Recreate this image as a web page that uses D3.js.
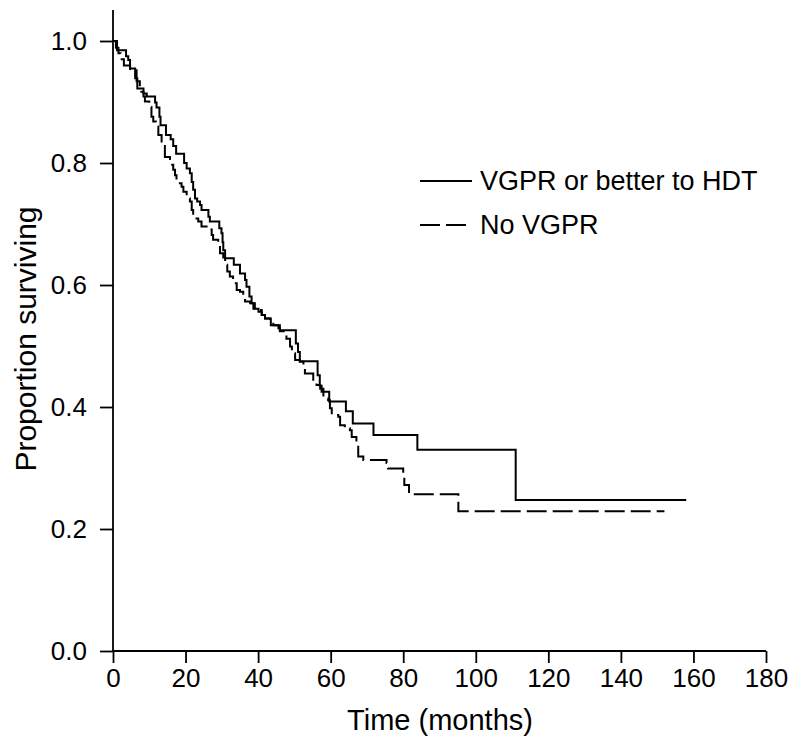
<!DOCTYPE html>
<html>
<head>
<meta charset="utf-8">
<script src="https://cdn.jsdelivr.net/npm/d3@7"></script>
<style>
  html, body { margin: 0; padding: 0; background: #fff; }
  svg { display: block; }
  text { font-family: "Liberation Sans", Arial, sans-serif; fill: #000; }
</style>
</head>
<body>
<svg id="chart" width="800" height="750"></svg>
<script>
// ---- data ----
const xTicks = [0, 20, 40, 60, 80, 100, 120, 140, 160, 180];
const yTicks = [0.0, 0.2, 0.4, 0.6, 0.8, 1.0];
const seriesNames = ["VGPR or better to HDT", "No VGPR"];

const vgprTimes = [0, 1.1, 3.6, 4.2, 4.7, 6.1, 6.7, 8.4, 9.3, 11.6, 12.0, 12.8, 13.1, 14.6, 15.9, 16.6, 17.4, 19.6, 20.3, 21.2, 21.7, 22.1, 22.6, 23.2, 24.0, 24.4, 26.3, 26.7, 29.3, 29.9, 30.2, 30.4, 30.9, 33.3, 35.0, 36.4, 36.8, 37.6, 38.2, 39.1, 40.1, 41.0, 41.9, 43.5, 46.0, 50.4, 51.0, 51.5, 56.4, 57.0, 57.5, 59.6, 64.2, 66.1, 71.8, 83.9, 111, 158];
const vgprSurv  = [1.0, 0.985, 0.975, 0.969, 0.955, 0.939, 0.922, 0.914, 0.909, 0.899, 0.891, 0.876, 0.862, 0.846, 0.839, 0.828, 0.815, 0.800, 0.791, 0.783, 0.769, 0.756, 0.742, 0.737, 0.731, 0.723, 0.712, 0.704, 0.693, 0.685, 0.670, 0.657, 0.644, 0.633, 0.619, 0.608, 0.597, 0.581, 0.570, 0.561, 0.556, 0.551, 0.545, 0.534, 0.526, 0.504, 0.490, 0.475, 0.452, 0.435, 0.425, 0.409, 0.393, 0.373, 0.354, 0.330, 0.2475, 0.2475];

const noVgprTimes = [0, 0.8, 1.5, 2.1, 3.0, 4.7, 6.5, 7.4, 8.4, 8.8, 10.0, 10.6, 11.1, 11.8, 12.5, 13.4, 14.3, 15.7, 16.6, 17.1, 17.5, 18.9, 19.4, 20.3, 21.2, 21.7, 22.1, 23.5, 24.4, 26.3, 27.2, 27.6, 29.0, 29.5, 30.4, 30.9, 31.5, 32.2, 33.1, 34.1, 35.0, 35.9, 36.4, 37.8, 38.7, 40.1, 41.0, 41.9, 43.3, 44.2, 45.6, 46.0, 47.4, 47.8, 48.8, 49.3, 50.2, 51.5, 52.5, 52.9, 55.2, 56.1, 57.1, 58.0, 59.3, 59.8, 60.3, 62.1, 62.6, 63.9, 65.3, 65.8, 67.1, 67.6, 69.0, 75.4, 75.8, 80.0, 80.3, 81.6, 95.2, 152];
const noVgprSurv  = [1.0, 0.989, 0.980, 0.970, 0.960, 0.952, 0.934, 0.917, 0.909, 0.901, 0.892, 0.876, 0.868, 0.860, 0.846, 0.830, 0.810, 0.797, 0.789, 0.780, 0.767, 0.761, 0.753, 0.742, 0.737, 0.723, 0.709, 0.704, 0.696, 0.691, 0.682, 0.674, 0.666, 0.652, 0.645, 0.633, 0.622, 0.614, 0.603, 0.592, 0.589, 0.581, 0.573, 0.570, 0.561, 0.559, 0.551, 0.545, 0.540, 0.534, 0.529, 0.524, 0.521, 0.512, 0.499, 0.488, 0.477, 0.474, 0.466, 0.455, 0.442, 0.436, 0.430, 0.414, 0.411, 0.398, 0.387, 0.384, 0.370, 0.365, 0.362, 0.351, 0.343, 0.319, 0.313, 0.308, 0.299, 0.290, 0.272, 0.257, 0.229, 0.229];

// ---- drawing ----
const svg = d3.select("#chart");
const x = d3.scaleLinear().domain([0, 180]).range([113, 766]);
const y = d3.scaleLinear().domain([0, 1]).range([651, 41]);

const stroke = "#000";
const axisW = 1.8;

// y axis
const yAxis = svg.append("g").attr("transform", "translate(113,0)")
  .call(d3.axisLeft(y).tickValues(yTicks).tickFormat(d3.format(".1f")).tickSize(13).tickSizeOuter(0).tickPadding(13));
yAxis.select(".domain").remove();
svg.append("line").attr("x1", 113).attr("x2", 113).attr("y1", 10).attr("y2", 651)
  .attr("stroke", stroke).attr("stroke-width", axisW);

// x axis
const xAxis = svg.append("g").attr("transform", "translate(0,651)")
  .call(d3.axisBottom(x).tickValues(xTicks).tickFormat(d3.format("d")).tickSize(12).tickSizeOuter(0).tickPadding(6));
xAxis.select(".domain").remove();
svg.append("line").attr("x1", 113).attr("x2", 766).attr("y1", 651).attr("y2", 651)
  .attr("stroke", stroke).attr("stroke-width", axisW);

svg.selectAll(".tick line").attr("stroke", stroke).attr("stroke-width", axisW);
svg.selectAll(".tick text").style("font-size", "26px").attr("fill", "#000");

// axis titles
svg.append("text").attr("x", 440).attr("y", 730).attr("text-anchor", "middle")
  .style("font-size", "29px").text("Time (months)");
svg.append("text").attr("transform", "translate(36,339) rotate(-90)").attr("text-anchor", "middle")
  .style("font-size", "30px").text("Proportion surviving");

// curves
const line = d3.line().x(d => x(d[0])).y(d => y(d[1])).curve(d3.curveStepAfter);
const vgpr = vgprTimes.map((t, i) => [t, vgprSurv[i]]);
const noVgpr = noVgprTimes.map((t, i) => [t, noVgprSurv[i]]);

svg.append("path").datum(vgpr).attr("d", line)
  .attr("fill", "none").attr("stroke", stroke).attr("stroke-width", 2);
svg.append("path").datum(noVgpr).attr("d", line)
  .attr("fill", "none").attr("stroke", stroke).attr("stroke-width", 2)
  .attr("stroke-dasharray", "20,6");

// legend
const legend = svg.append("g");
const legY = [181, 225];
const legDash = [null, "20,6"];
seriesNames.forEach((name, i) => {
  legend.append("line").attr("x1", 420).attr("x2", 472).attr("y1", legY[i]).attr("y2", legY[i])
    .attr("stroke", stroke).attr("stroke-width", 2)
    .attr("stroke-dasharray", legDash[i]);
  legend.append("text").attr("x", 480).attr("y", legY[i]).attr("dy", "0.35em")
    .style("font-size", "27px").text(name);
});
</script>
</body>
</html>
